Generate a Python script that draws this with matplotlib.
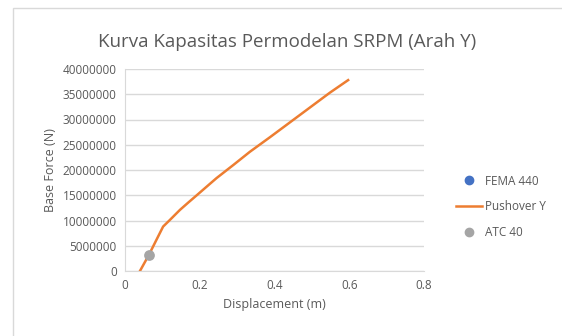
import matplotlib.pyplot as plt
from matplotlib.patches import Rectangle
from matplotlib.lines import Line2D

# pushover curve, direction Y
disp_pushover = [0.040, 0.064, 0.085, 0.102, 0.120, 0.147, 0.170, 0.192, 0.220,
                 0.245, 0.290, 0.334, 0.388, 0.468, 0.548, 0.597]
force_pushover = [0, 3.2e6, 6.3e6, 8.8e6, 1.01e7, 1.21e7, 1.36e7, 1.50e7, 1.68e7,
                  1.84e7, 2.10e7, 2.36e7, 2.65e7, 3.09e7, 3.53e7, 3.78e7]

# performance points
disp_fema = [0.064]
force_fema = [3.2e6]
disp_atc = [0.064]
force_atc = [3.2e6]

x_ticks = [0, 0.2, 0.4, 0.6, 0.8]
y_ticks = list(range(0, 40000001, 5000000))

plt.rcParams['font.family'] = ['Open Sans', 'DejaVu Sans']
text_col = '#595959'
grid_col = '#d9d9d9'

fig = plt.figure(figsize=(5.62, 3.36), dpi=100)
fig.patches.append(Rectangle((13 / 562, -0.1), 1.2, 1 - 8 / 336 + 0.1,
                             transform=fig.transFigure, fill=False,
                             edgecolor=grid_col, linewidth=1.0))

ax = fig.add_axes([125 / 562, 65 / 336, 299 / 562, 202 / 336])

ax.scatter(disp_fema, force_fema, s=25, color='#4472c4', zorder=3, label='FEMA 440')
ax.plot(disp_pushover, force_pushover, color='#ed7d31', linewidth=1.8, zorder=2,
        label='Pushover Y')
ax.scatter(disp_atc, force_atc, s=45, color='#a5a5a5', zorder=4, label='ATC 40')

ax.set_xlim(0, 0.8)
ax.set_ylim(0, 40000000)
ax.set_xticks(x_ticks)
ax.set_xticklabels(['0', '0.2', '0.4', '0.6', '0.8'])
ax.set_yticks(y_ticks)
ax.set_yticklabels([str(v) for v in y_ticks])
ax.tick_params(length=0, labelsize=8.5, colors=text_col, pad=6)
ax.grid(axis='y', color=grid_col, linewidth=1.0)
ax.set_axisbelow(True)
for side in ['top', 'right']:
    ax.spines[side].set_visible(False)
for side in ['left', 'bottom']:
    ax.spines[side].set_color(grid_col)

ax.set_xlabel('Displacement (m)', color=text_col, fontsize=9, labelpad=4)
ax.set_ylabel('Base Force (N)', color=text_col, fontsize=9, labelpad=4)
fig.text(287 / 562, 1 - 42 / 336, 'Kurva Kapasitas Permodelan SRPM (Arah Y)',
         ha='center', va='center', color=text_col, fontsize=13.5)

handles = [
    Line2D([], [], marker='o', linestyle='none', color='#4472c4', markersize=6),
    Line2D([], [], color='#ed7d31', linewidth=1.8),
    Line2D([], [], marker='o', linestyle='none', color='#a5a5a5', markersize=6),
]
leg = fig.legend(handles, ['FEMA 440', 'Pushover Y', 'ATC 40'],
                 loc='center left', bbox_to_anchor=(445 / 562, 1 - 207 / 336),
                 frameon=False, fontsize=8.5, labelspacing=1.1, handlelength=2.2,
                 handletextpad=0.3)
for t in leg.get_texts():
    t.set_color(text_col)

fig.savefig('out.png', dpi=100)
